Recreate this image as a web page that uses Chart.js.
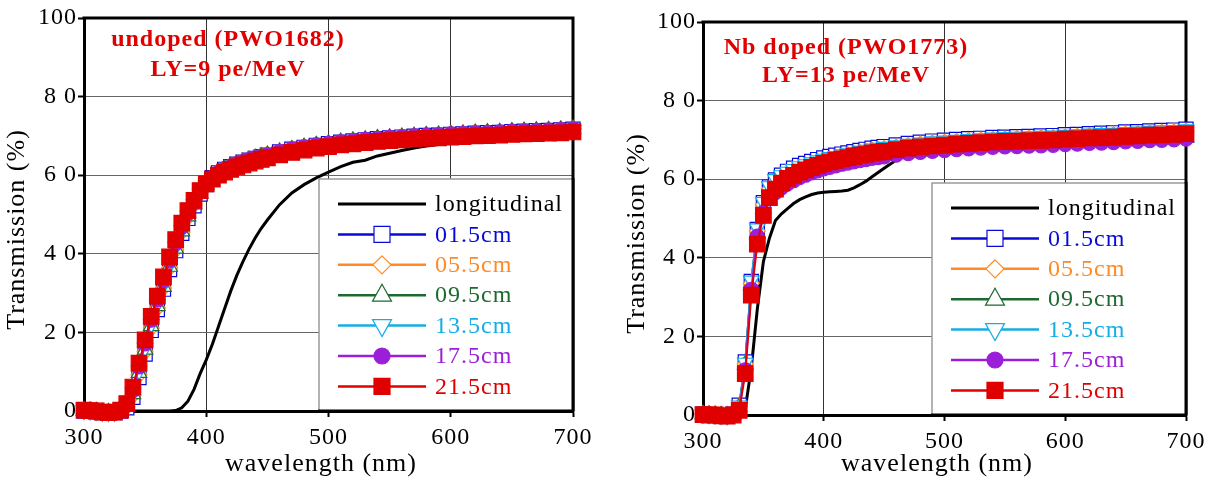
<!DOCTYPE html>
<html>
<head>
<meta charset="utf-8">
<script src="https://cdn.jsdelivr.net/npm/chart.js@4.4.1/dist/chart.umd.min.js"></script>
<style>
  body { margin: 0; background: #fff; }
  #wrap { position: relative; width: 1210px; height: 485px; }
  canvas { position: absolute; top: 0; }
  #left { left: 0; }
  #right { left: 605px; }
</style>
</head>
<body>
<div id="wrap">
  <canvas id="left" width="605" height="485"></canvas>
  <canvas id="right" width="605" height="485"></canvas>
</div>
<script>
// wavelength grid (nm): 5 nm steps up to 450, then 10 nm
const wavelength = [300, 305, 310, 315, 320, 325, 330, 335, 340, 345, 350, 355, 360, 365, 370, 375, 380, 385, 390, 395, 400, 405, 410, 415, 420, 425, 430, 435, 440, 445, 450,
  460, 470, 480, 490, 500, 510, 520, 530, 540, 550, 560, 570, 580, 590, 600, 610, 620, 630, 640, 650, 660, 670, 680, 690, 700];

const seriesLabels = ['longitudinal', '01.5cm', '05.5cm', '09.5cm', '13.5cm', '17.5cm', '21.5cm'];
const xTicks = [300, 400, 500, 600, 700];
const yTicks = [0, 20, 40, 60, 80, 100];

// undoped (PWO1682)
const undopedLong = [0, 0, 0, 0, 0, 0, 0, 0, 0, 0, 0, 0, 0, 0, 0, 0.1, 0.8, 2.5, 5.5, 9.5, 13, 17, 21.5, 26, 30.5, 34.5, 38, 41.2, 44, 46.5, 48.6,
  52.5, 55.5, 57.6, 59.3, 60.8, 62.2, 63.3, 63.8, 64.9, 65.6, 66.3, 66.9, 67.4, 67.8, 68.2, 68.5, 68.8, 69.0, 69.3, 69.5, 69.7, 69.9, 70.1, 70.3, 70.4];
const undoped015 = [0, 0, -0.2, -0.4, -0.5, -0.4, 0, 0.8, 3.5, 8.5, 14.5, 20.5, 25.8, 31.0, 36.0, 40.8, 45.2, 49.0, 52.2, 55.2, 57.6, 59.4, 60.6, 61.5, 62.2, 62.8, 63.3, 63.8, 64.3, 64.7, 65.1,
  65.9, 66.6, 67.1, 67.6, 68.0, 68.4, 68.7, 69.0, 69.3, 69.5, 69.7, 69.9, 70.1, 70.2, 70.4, 70.5, 70.7, 70.8, 70.9, 71.1, 71.2, 71.3, 71.4, 71.5, 71.7];
const undoped055 = [0.1, 0, -0.1, -0.3, -0.4, -0.3, 0.1, 1.0, 4.0, 9.2, 15.1, 21.1, 26.2, 31.3, 36.4, 41.0, 45.5, 49.3, 52.5, 55.5, 57.8, 59.6, 60.8, 61.7, 62.4, 63.0, 63.5, 64.0, 64.5, 64.9, 65.3,
  66.1, 66.8, 67.3, 67.8, 68.2, 68.6, 68.9, 69.2, 69.5, 69.7, 69.9, 70.1, 70.3, 70.4, 70.6, 70.7, 70.9, 71.0, 71.1, 71.3, 71.4, 71.5, 71.6, 71.7, 71.9];
const undoped095 = [0.1, 0, -0.1, -0.3, -0.4, -0.3, 0.1, 1.1, 4.3, 9.7, 15.6, 21.6, 26.7, 31.6, 36.7, 41.3, 45.7, 49.5, 52.6, 55.4, 57.6, 59.4, 60.6, 61.5, 62.2, 62.8, 63.3, 63.8, 64.3, 64.7, 65.1,
  65.9, 66.5, 67.1, 67.6, 68.0, 68.4, 68.7, 69.0, 69.3, 69.5, 69.7, 69.9, 70.1, 70.2, 70.4, 70.5, 70.7, 70.8, 70.9, 71.1, 71.2, 71.3, 71.4, 71.5, 71.7];
const undoped135 = [0.1, 0, -0.1, -0.3, -0.4, -0.3, 0.1, 1.2, 4.6, 10.2, 16.1, 22.1, 27.2, 32.1, 37.2, 41.8, 46.0, 49.7, 52.6, 55.3, 57.4, 59.2, 60.4, 61.3, 62.0, 62.6, 63.1, 63.6, 64.1, 64.5, 64.9,
  65.7, 66.3, 66.9, 67.4, 67.8, 68.2, 68.5, 68.8, 69.1, 69.3, 69.5, 69.7, 69.9, 70.0, 70.2, 70.3, 70.5, 70.6, 70.7, 70.9, 71.0, 71.1, 71.2, 71.3, 71.5];
const undoped175 = [0.2, 0.1, 0, -0.3, -0.4, -0.3, 0.2, 1.5, 5.2, 11.2, 17.1, 23.1, 28.2, 33.1, 38.2, 42.6, 46.8, 50.2, 53.0, 55.7, 57.7, 59.5, 60.7, 61.6, 62.3, 62.9, 63.4, 63.9, 64.4, 64.8, 65.2,
  66.0, 66.7, 67.2, 67.7, 68.1, 68.5, 68.8, 69.1, 69.4, 69.6, 69.8, 70.0, 70.2, 70.3, 70.5, 70.6, 70.8, 70.9, 71.0, 71.2, 71.3, 71.4, 71.5, 71.6, 71.8];
const undoped215 = [0.2, 0.1, 0, -0.3, -0.4, -0.3, 0.2, 1.9, 6.1, 12.2, 18.1, 24.1, 29.2, 34.1, 39.2, 43.6, 47.8, 51.0, 53.6, 56.1, 57.8, 59.0, 60.0, 60.8, 61.5, 62.1, 62.6, 63.1, 63.6, 64.0, 64.4,
  65.2, 65.8, 66.4, 66.9, 67.3, 67.7, 68.0, 68.3, 68.6, 68.8, 69.0, 69.2, 69.4, 69.5, 69.7, 69.8, 70.0, 70.1, 70.2, 70.4, 70.5, 70.6, 70.7, 70.8, 71.0];

// Nb doped (PWO1773)
const nbLong = [0, 0, 0, 0, 0, 0, 0, 1.5, 12, 27, 39, 45, 49.5, 51.2, 52.5, 53.8, 54.8, 55.5, 56.1, 56.5, 56.7, 56.8, 56.9, 57.0, 57.2, 57.8, 58.6, 59.5, 60.6, 61.7, 62.8,
  64.9, 66.3, 67.2, 67.8, 68.2, 68.5, 68.8, 69.0, 69.2, 69.4, 69.5, 69.6, 69.7, 69.8, 70.0, 70.1, 70.3, 70.4, 70.5, 70.7, 70.8, 71.0, 71.1, 71.2, 71.4];
const nb015 = [0.2, 0.1, 0, -0.1, -0.2, 0.2, 2.5, 13.5, 34.0, 47.2, 54.0, 58.0, 59.8, 61.0, 62.0, 62.8, 63.5, 64.0, 64.5, 65.0, 65.4, 65.8, 66.1, 66.4, 66.7, 67.0, 67.3, 67.6, 67.9, 68.1, 68.3,
  68.7, 69.1, 69.4, 69.7, 69.9, 70.1, 70.3, 70.4, 70.6, 70.7, 70.8, 70.9, 71.0, 71.1, 71.3, 71.4, 71.6, 71.7, 71.8, 72.0, 72.1, 72.3, 72.4, 72.5, 72.7];
const nb055 = [0.2, 0.1, 0, -0.1, -0.2, 0.1, 2.2, 13.0, 33.5, 46.8, 53.5, 57.5, 59.2, 60.5, 61.5, 62.2, 62.9, 63.4, 63.9, 64.4, 64.8, 65.2, 65.5, 65.9, 66.2, 66.5, 66.8, 67.1, 67.4, 67.6, 67.8,
  68.2, 68.6, 68.9, 69.2, 69.4, 69.6, 69.8, 69.9, 70.1, 70.2, 70.3, 70.4, 70.5, 70.6, 70.8, 70.9, 71.1, 71.2, 71.3, 71.5, 71.6, 71.8, 71.9, 72.0, 72.2];
const nb095 = [0.2, 0.1, 0, -0.1, -0.2, 0.1, 2.0, 12.8, 33.0, 46.0, 52.5, 56.0, 57.8, 58.8, 59.6, 60.3, 61.0, 61.6, 62.1, 62.6, 63.0, 63.4, 63.8, 64.1, 64.4, 64.7, 65.0, 65.3, 65.6, 65.8, 66.0,
  66.4, 66.8, 67.1, 67.4, 67.6, 67.8, 68.0, 68.2, 68.4, 68.5, 68.6, 68.7, 68.8, 68.9, 69.1, 69.2, 69.4, 69.5, 69.6, 69.8, 69.9, 70.1, 70.2, 70.3, 70.5];
const nb135 = [0.2, 0.1, 0, -0.1, -0.2, 0.2, 2.4, 13.3, 34.2, 47.5, 54.2, 58.2, 60.0, 61.0, 61.9, 62.6, 63.3, 63.8, 64.3, 64.8, 65.2, 65.6, 65.9, 66.3, 66.6, 66.9, 67.2, 67.5, 67.8, 68.0, 68.2,
  68.6, 69.0, 69.3, 69.6, 69.8, 70.0, 70.2, 70.4, 70.6, 70.7, 70.8, 70.9, 71.0, 71.1, 71.3, 71.4, 71.6, 71.7, 71.8, 72.0, 72.1, 72.3, 72.4, 72.5, 72.7];
const nb175 = [0.1, 0, 0, -0.2, -0.3, 0, 1.5, 11.5, 32.0, 45.5, 51.5, 55.0, 56.6, 57.8, 58.8, 59.6, 60.4, 61.0, 61.6, 62.1, 62.6, 63.0, 63.4, 63.8, 64.1, 64.4, 64.7, 65.0, 65.3, 65.5, 65.7,
  66.1, 66.5, 66.8, 67.1, 67.3, 67.5, 67.7, 67.9, 68.1, 68.2, 68.3, 68.4, 68.5, 68.6, 68.8, 68.9, 69.1, 69.2, 69.3, 69.5, 69.6, 69.8, 69.9, 70.0, 70.2];
const nb215 = [0.1, 0, 0, -0.2, -0.3, 0, 1.2, 10.5, 30.5, 43.5, 50.8, 55.3, 57.5, 59.0, 60.2, 61.0, 61.8, 62.4, 63.0, 63.5, 64.0, 64.4, 64.8, 65.2, 65.5, 65.8, 66.1, 66.4, 66.7, 66.9, 67.1,
  67.5, 67.9, 68.2, 68.5, 68.7, 68.9, 69.1, 69.3, 69.5, 69.6, 69.7, 69.8, 69.9, 70.0, 70.2, 70.3, 70.5, 70.6, 70.7, 70.9, 71.0, 71.2, 71.3, 71.4, 71.6];

const FONT = "'Liberation Serif', 'Times New Roman', serif";
const RED = '#e00000';

// marker look per series (same order as seriesLabels)
const seriesStyle = [
  { color: '#000000', point: false, width: 3 },
  { color: '#0a0ad6', point: 'rect', r: 10, fill: false },
  { color: '#ff8a24', point: 'rectRot', r: 8, fill: false },
  { color: '#1d6a2e', point: 'triangle', r: 9, fill: false },
  { color: '#14aee6', point: 'triangle', r: 9, fill: false, rot: 180 },
  { color: '#9b1fd8', point: 'circle', r: 7, fill: true },
  { color: RED, point: 'rect', r: 11, fill: true }
];

function buildDatasets(arrays) {
  return arrays.map((arr, i) => {
    const st = seriesStyle[i];
    return {
      label: seriesLabels[i],
      data: wavelength.map((w, k) => ({ x: w, y: arr[k] })),
      borderColor: st.color,
      backgroundColor: st.color,
      borderWidth: st.width || 2,
      pointStyle: st.point || 'circle',
      pointRadius: st.point ? st.r : 0,
      pointRotation: st.rot || 0,
      pointBackgroundColor: st.fill ? st.color : '#ffffff',
      pointBorderColor: st.color,
      pointBorderWidth: 1.2,
      pointHoverRadius: 0,
      tension: 0,
      clip: false,
      order: arrays.length - i
    };
  });
}

function drawMarker(ctx, st, x, y) {
  ctx.save();
  ctx.fillStyle = st.fill ? st.color : '#fff';
  ctx.strokeStyle = st.color;
  ctx.lineWidth = 1.2;
  ctx.beginPath();
  if (st.point === 'rect') {
    ctx.rect(x - 8, y - 8, 16, 16);
  } else if (st.point === 'rectRot') {
    ctx.moveTo(x, y - 9); ctx.lineTo(x + 9, y); ctx.lineTo(x, y + 9); ctx.lineTo(x - 9, y);
    ctx.closePath();
  } else if (st.point === 'triangle') {
    const s = st.rot ? -1 : 1;
    ctx.moveTo(x, y - 11 * s); ctx.lineTo(x + 9.5, y + 6 * s); ctx.lineTo(x - 9.5, y + 6 * s);
    ctx.closePath();
  } else {
    ctx.arc(x, y, 8, 0, Math.PI * 2);
  }
  ctx.fill();
  ctx.stroke();
  ctx.restore();
}

// frame: top and right edges of the plot box (left/bottom come from the axes)
const framePlugin = {
  id: 'frame',
  beforeDraw(chart) {
    chart.ctx.letterSpacing = '1px';
  },
  beforeDatasetsDraw(chart) {
    const { ctx, chartArea: a } = chart;
    ctx.save();
    ctx.strokeStyle = '#000';
    ctx.lineWidth = 3;
    ctx.beginPath();
    ctx.moveTo(a.left - 1.5, a.top);
    ctx.lineTo(a.right, a.top);
    ctx.lineTo(a.right, a.bottom);
    ctx.stroke();
    ctx.restore();
  }
};

// legend box in the lower right corner of the plot
const boxLegend = {
  id: 'boxLegend',
  afterDatasetsDraw(chart) {
    const { ctx, chartArea: a } = chart;
    const left = a.right - 254, top = a.top + 161;
    ctx.save();
    ctx.fillStyle = '#fff';
    ctx.fillRect(left, top, a.right - left, a.bottom - top);
    ctx.strokeStyle = '#9a9a9a';
    ctx.lineWidth = 1.5;
    ctx.strokeRect(left, top, a.right - left, a.bottom - top);
    ctx.strokeStyle = '#000';
    ctx.lineWidth = 3;
    ctx.beginPath();
    ctx.moveTo(left - 1, a.bottom); ctx.lineTo(a.right, a.bottom); ctx.lineTo(a.right, top - 1);
    ctx.stroke();

    ctx.font = '24px ' + FONT;
    ctx.textBaseline = 'middle';
    ctx.textAlign = 'left';
    seriesLabels.forEach((lab, i) => {
      const st = seriesStyle[i];
      const y = top + 25 + i * 30.4;
      ctx.strokeStyle = st.color;
      ctx.lineWidth = st.width || 2.5;
      ctx.beginPath();
      ctx.moveTo(left + 19, y); ctx.lineTo(left + 107, y);
      ctx.stroke();
      if (st.point) drawMarker(ctx, st, left + 63, y);
      ctx.fillStyle = st.color;
      ctx.fillText(lab, left + 116, y + 1);
    });
    ctx.restore();
  }
};

// red sample note in the upper left
const notePlugin = {
  id: 'panelNote',
  afterDatasetsDraw(chart, args, opts) {
    const { ctx } = chart;
    ctx.save();
    ctx.font = 'bold 24px ' + FONT;
    ctx.fillStyle = RED;
    ctx.textAlign = 'center';
    ctx.textBaseline = 'alphabetic';
    opts.lines.forEach((t, i) => ctx.fillText(t, opts.x, opts.baselines[i]));
    ctx.restore();
  }
};

function makeChart(id, arrays, cfg) {
  return new Chart(document.getElementById(id), {
    type: 'line',
    data: { datasets: buildDatasets(arrays) },
    options: {
      responsive: false,
      animation: false,
      devicePixelRatio: 1,
      layout: { padding: { top: cfg.top, right: cfg.right, left: 0, bottom: 0 } },
      plugins: {
        legend: { display: false },
        tooltip: { enabled: false },
        panelNote: cfg.note
      },
      scales: {
        x: {
          type: 'linear',
          min: xTicks[0],
          max: xTicks[xTicks.length - 1],
          afterFit(s) { s.height = cfg.xh; },
          afterBuildTicks(s) { s.ticks = xTicks.map(v => ({ value: v })); },
          ticks: { color: '#000', font: { family: FONT, size: 24 }, padding: 6, maxRotation: 0 },
          grid: { color: '#333', lineWidth: 1, tickColor: '#000', tickLength: 6, tickWidth: 2 },
          border: { color: '#000', width: 3 },
          title: {
            // trailing spaces nudge the centred title a little left, as in the original
            display: true, text: 'wavelength (nm)  ', color: '#000',
            font: { family: FONT, size: 26 }, padding: { top: 0, bottom: 5 }
          }
        },
        y: {
          min: yTicks[0],
          max: yTicks[yTicks.length - 1],
          afterFit(s) { s.width = cfg.yw; },
          afterBuildTicks(s) { s.ticks = yTicks.map(v => ({ value: v })); },
          ticks: {
            color: '#000', font: { family: FONT, size: 24 }, padding: 1,
            callback: v => (v === 0 || v === 100) ? String(v) : String(v).split('').join(' ')
          },
          grid: { color: '#666', lineWidth: 1, tickColor: '#000', tickLength: 6, tickWidth: 2 },
          border: { color: '#000', width: 3 },
          title: {
            display: true, text: 'Transmission (%)    ', color: '#000',
            font: { family: FONT, size: 26 }, padding: { top: cfg.titlePad, bottom: 0 }
          }
        }
      }
    },
    plugins: [framePlugin, boxLegend, notePlugin]
  });
}

makeChart('left',
  [undopedLong, undoped015, undoped055, undoped095, undoped135, undoped175, undoped215],
  { top: 18, right: 32, xh: 74, yw: 84, titlePad: 2,
    note: { lines: ['undoped (PWO1682)', 'LY=9 pe/MeV'], x: 228, baselines: [46, 76] } });

makeChart('right',
  [nbLong, nb015, nb055, nb095, nb135, nb175, nb215],
  { top: 22, right: 18, xh: 70, yw: 98, titlePad: 17,
    note: { lines: ['Nb doped (PWO1773)', 'LY=13 pe/MeV'], x: 241, baselines: [54, 82] } });
</script>
</body>
</html>
